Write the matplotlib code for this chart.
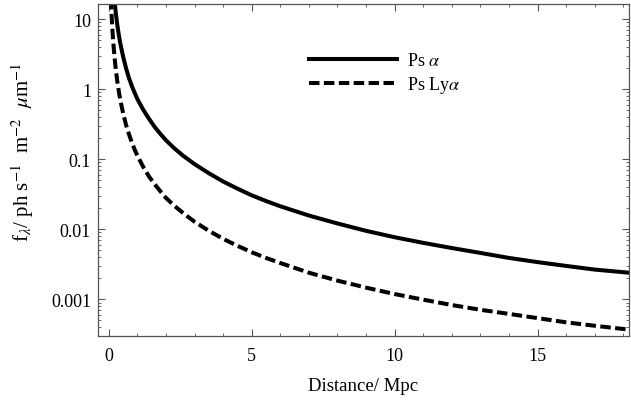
import matplotlib
matplotlib.use('Agg')
import matplotlib.pyplot as plt
from matplotlib.ticker import FixedLocator, LogLocator, NullFormatter, FixedFormatter

plt.rcParams['font.family'] = ['Liberation Serif', 'DejaVu Serif']
plt.rcParams['mathtext.fontset'] = 'stix'

# values
dist_alpha = [0.20, 0.22, 0.25, 0.3, 0.35, 0.4, 0.5, 0.6, 0.7, 0.8, 0.9, 1.0, 1.2,
              1.4, 1.6, 1.8, 2.0, 2.3, 2.6, 3.0, 3.5, 4.0, 4.5, 5.0, 5.5, 6.0, 7.0,
              8.0, 9.0, 10.0, 11.0, 12.0, 13.0, 14.0, 15.0, 16.0, 17.0, 18.2]
flux_alpha = [18.0, 15.0, 11.5, 8.0, 5.9, 4.5, 2.9, 2.0, 1.45, 1.12, 0.89, 0.72, 0.51,
              0.38, 0.29, 0.23, 0.186, 0.142, 0.112, 0.085, 0.063, 0.048, 0.038,
              0.0305, 0.0253, 0.0213, 0.0157, 0.0121, 0.0095, 0.0077, 0.0064, 0.0054,
              0.0046, 0.0039, 0.0034, 0.0030, 0.00266, 0.0024]

dist_lya = [0.07, 0.08, 0.09, 0.1, 0.12, 0.15, 0.2, 0.25, 0.3, 0.35, 0.4, 0.5, 0.6,
            0.7, 0.8, 0.9, 1.0, 1.2, 1.4, 1.6, 1.8, 2.0, 2.3, 2.6, 3.0, 3.5, 4.0,
            4.5, 5.0, 5.5, 6.0, 7.0, 8.0, 9.0, 10.0, 11.0, 12.0, 13.0, 14.0, 15.0,
            16.0, 17.0, 18.2]
flux_lya = [20.0, 16.0, 13.0, 10.5, 7.5, 4.9, 2.8, 1.8, 1.25, 0.92, 0.70, 0.45, 0.31,
            0.23, 0.175, 0.138, 0.112, 0.078, 0.057, 0.044, 0.035, 0.028, 0.0215,
            0.0170, 0.0128, 0.0095, 0.0073, 0.0058, 0.0047, 0.0039, 0.0033, 0.0024,
            0.00185, 0.00147, 0.00119, 0.00099, 0.00083, 0.00071, 0.00062, 0.00054,
            0.00047, 0.00042, 0.00037]

xticks = [0, 5, 10, 15]
yticks = [0.001, 0.01, 0.1, 1, 10]
ylabels = ['0.001', '0.01', '0.1', '1', '10']

fig = plt.figure(figsize=(6.31, 4.02), dpi=100)
ax = fig.add_axes([0.1553, 0.1617, 0.9968 - 0.1553, 0.9876 - 0.1617])

ax.plot(dist_alpha, flux_alpha, color='black', lw=2.9, label=r'Ps $\alpha$')
ax.plot(dist_lya, flux_lya, color='black', lw=2.9, dashes=(2.6, 1.1),
        dash_capstyle='butt', label=r'Ps Ly$\alpha$')

ax.set_yscale('log')
ax.set_xlim(-0.38, 18.2)
ax.set_ylim(3.0e-4, 16.4)

ax.xaxis.set_major_locator(FixedLocator(xticks))
ax.xaxis.set_minor_locator(FixedLocator([i for i in range(0, 19)]))
ax.yaxis.set_major_locator(FixedLocator(yticks))
ax.yaxis.set_major_formatter(FixedFormatter(ylabels))
ax.yaxis.set_minor_locator(LogLocator(base=10, subs=range(2, 10)))
ax.yaxis.set_minor_formatter(NullFormatter())

ax.tick_params(which='both', direction='in', top=True, right=True,
               color='#555555', labelsize=13, labelcolor='black')
ax.tick_params(which='major', length=5, width=0.8)
ax.tick_params(which='minor', length=2.5, width=0.6)
ax.tick_params(axis='x', which='major', pad=8)
ax.tick_params(axis='y', which='major', pad=5)
for s in ax.spines.values():
    s.set_color('#555555')
    s.set_linewidth(0.9)

ax.set_xlabel('Distance/ Mpc', fontsize=13.5, labelpad=9)
ax.set_ylabel(r'f$_\lambda$/ ph s$^{-1}$  m$^{-2}$  $\mu$m$^{-1}$', fontsize=15)
ax.yaxis.set_label_coords(-0.116, 0.557)

leg = ax.legend(loc='upper left', bbox_to_anchor=(0.383, 0.876), frameon=False,
                fontsize=13, handlelength=4.9, handletextpad=0.55, labelspacing=0.25,
                borderaxespad=0)

fig.savefig('out.png', dpi=100)
